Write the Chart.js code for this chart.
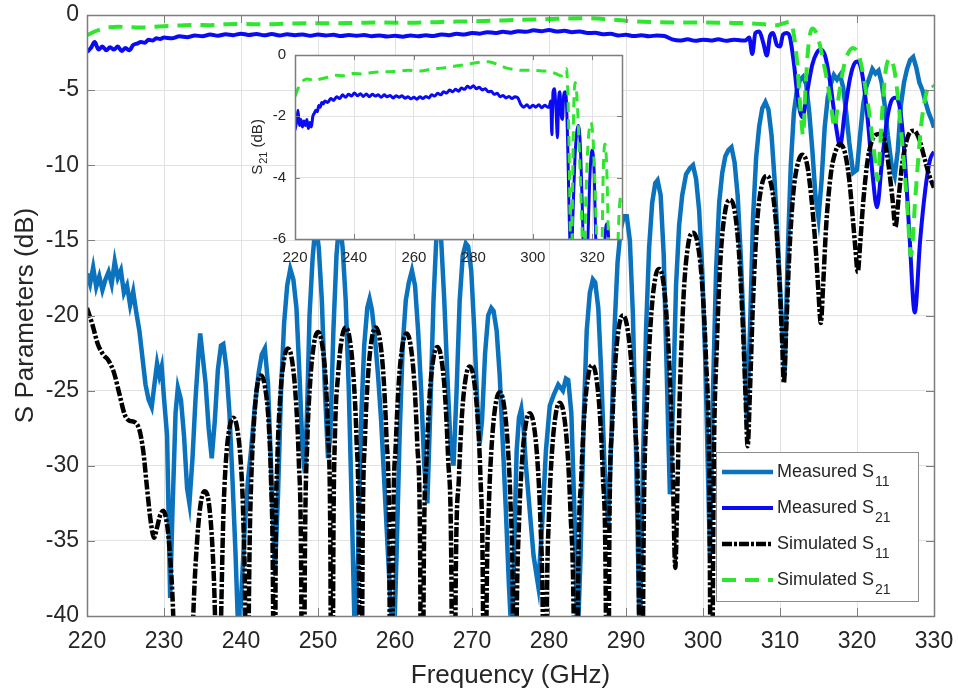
<!DOCTYPE html>
<html lang="en">
<head>
  <meta charset="UTF-8" />
  <title>S Parameters vs Frequency</title>
  <script src="https://cdn.jsdelivr.net/npm/chart.js"></script>
  <style>
    body { margin: 0; background: #fff; }
    #wrap { position: relative; width: 958px; height: 694px; }
    #mainChart { position: absolute; left: 0; top: 0; }
    #insetChart { position: absolute; left: 220px; top: 40px; }
  </style>
</head>
<body>
  <div id="wrap">
    <canvas id="mainChart" width="958" height="694"></canvas>
    <canvas id="insetChart" width="420" height="240"></canvas>
  </div>

  <script>
    // Measured S11 (GHz / dB)
    const freqMeasS11 = [
      220, 220.4, 220.8, 221.2, 221.6, 222, 222.4, 222.8, 223.2, 223.6,
      224, 224.4, 224.8, 225.2, 225.6, 226, 226.4, 226.8, 227.2, 227.6,
      228, 228.4, 228.8, 229.1, 229.4, 229.7, 230, 230.4, 230.8, 231.1,
      231.5, 231.8, 232.2, 232.6, 233.0, 233.3, 233.7, 234.1, 234.5, 234.7,
      235.0, 235.4, 235.8, 236.2, 236.6, 237.0, 237.4, 237.7, 238.1, 238.5,
      238.9, 239.3, 239.7, 240.1, 240.5, 240.9, 241.3, 241.8, 242.3, 242.7,
      243.1, 243.5, 243.9, 244.4, 244.8, 245.2, 245.6, 246.0, 246.4, 246.8,
      247.2, 247.6, 248.0, 248.3, 248.6, 248.9, 249.3, 249.7, 250.1, 250.5,
      250.9, 251.3, 251.6, 252.0, 252.4, 252.8, 253.2, 253.6, 254.0, 254.4,
      254.8, 255.2, 255.6, 256.0, 256.4, 256.7, 257.0, 257.4, 257.8, 258.2,
      258.6, 259.0, 259.4, 259.8, 260.2, 260.6, 261.0, 261.4, 261.8, 262.2,
      262.6, 263.0, 263.4, 263.8, 264.2, 264.6, 265.0, 265.4, 265.7, 266.0,
      266.4, 266.8, 267.2, 267.6, 268.0, 268.4, 268.8, 269.2, 269.5, 269.9,
      270.3, 270.7, 271.0, 271.3, 271.7, 272.1, 272.5, 272.8, 273.2, 273.6,
      274.0, 274.4, 274.8, 275.2, 275.5, 275.8, 276.1, 276.4, 276.7, 277.0,
      277.5, 278.0, 278.6, 279.1, 279.6, 280.1, 280.6, 281.2, 281.8, 282.2,
      282.5, 282.9, 283.3, 283.7, 284.1, 284.5, 284.9, 285.3, 285.7, 286.0,
      286.4, 286.8, 287.2, 287.7, 288.1, 288.5, 288.9, 289.3, 289.7, 290.1,
      290.5, 290.9, 291.3, 291.8, 292.2, 292.6, 293.0, 293.4, 293.8, 294.1,
      294.5, 294.9, 295.3, 295.7, 296.1, 296.5, 296.9, 297.3, 297.8, 298.3,
      298.7, 299.1, 299.5, 299.9, 300.3, 300.9, 301.3, 301.7, 302.1, 302.5,
      302.9, 303.3, 303.7, 304.1, 304.5, 304.9, 305.3, 305.7, 306.1, 306.5,
      306.9, 307.3, 307.7, 308.1, 308.5, 308.9, 309.3, 309.7, 310.2, 310.6,
      311.0, 311.4, 311.8, 312.2, 312.6, 313.0, 313.4, 313.8, 314.2, 314.6,
      315.0, 315.4, 315.8, 316.2, 316.6, 317.0, 317.4, 317.8, 318.2, 318.6,
      319.0, 319.5, 320.0, 320.4, 320.8, 321.2, 321.6, 322.0, 322.4, 322.8,
      323.2, 323.6, 324.0, 324.5, 324.9, 325.3, 325.7, 326.1, 326.5, 326.9,
      327.3, 327.7, 328.1, 328.5, 328.9, 329.3, 329.7, 330
    ];
    const measS11 = [
      -17.2, -17.9, -16.8, -18.1, -17.4, -18.3, -17.6, -17.1, -17.9, -16.4,
      -17.5, -17.0, -18.5, -18.0, -19.3, -18.4, -19.8, -21.0, -22.8, -24.6,
      -25.6, -26.1, -24.4, -23.2, -24.0, -23.4, -25.5, -28, -38.8, -33,
      -26.5, -24.8, -25.6, -28, -31.5, -32.5, -29.5, -25.5, -22.4, -21.2,
      -22.6, -24.5, -27.5, -29.5, -27, -23.6, -22.0, -21.9, -23.5, -26.5,
      -31, -36, -42, -38, -34, -31, -29, -26, -23.8, -22.6,
      -22.2, -24.5, -30, -37.2, -32, -25, -20.5, -18, -16.9, -17.6,
      -19.5, -24, -29, -30.5, -26, -20, -16.2, -13.8, -15.5, -19,
      -25, -29.5, -28, -21, -16, -13.5, -15.5, -19, -25, -33,
      -42, -36, -27, -22, -19.5, -18.9, -19.6, -21.5, -24, -27,
      -31, -35, -39, -43, -36, -28, -22, -19, -17.8, -17.0,
      -18, -21, -25, -30, -32.5, -26, -19, -14.5, -13.5, -15,
      -19, -24, -28.5, -30, -25, -19, -16, -15.2, -15.4, -17,
      -21, -26, -28.5, -27, -22.5, -20, -19.5, -19.7, -21, -24,
      -28.5, -33, -38, -42, -35, -29, -26.8, -26.2, -27.5, -30,
      -33, -36, -38, -34, -29, -26, -25.3, -24.6, -25, -24.2,
      -24.3, -26.5, -33, -42, -36, -27, -21, -18.5, -17.6, -17.8,
      -19.5, -24, -30, -34, -28, -21, -16.5, -14.3, -13.4, -13.4,
      -15, -20, -29, -42, -30, -21, -15.5, -12.5, -11.2, -11.0,
      -12, -16, -24, -31.9, -26, -18, -14, -12, -10.6, -10.2,
      -10.0, -10.9, -13, -17, -23, -35.9, -25, -17, -12.5, -10.5,
      -9.4, -9.0, -8.8, -9.8, -12, -16, -21, -27, -21, -13.5,
      -9.5, -7.4, -6.2, -5.8, -6.3, -8, -11, -15, -20, -24,
      -16, -10, -6.5, -5, -4.3, -4.1, -4.6, -6.5, -9, -12,
      -13.5, -11, -7.5, -5.5, -4.6, -4.0, -4.3, -4.0, -4.8, -6.5,
      -8.5, -10.5, -10.3, -8, -6, -4.8, -4.2, -3.6, -3.9, -3.7,
      -4.5, -6, -8, -10, -10.7, -9, -6, -4.5, -3.6, -3.0,
      -2.8, -3.5, -4.5, -5, -5.8, -6.5, -7, -7.5
    ];

    // Measured S21
    const freqMeasS21 = [
      220, 220.5, 221, 221.5, 222, 222.5, 223, 223.5, 224, 224.5,
      225, 225.5, 226, 226.5, 227, 227.5, 228, 228.5, 229, 229.5,
      230, 231, 232, 233, 234, 235, 236, 237, 238, 239,
      240, 241, 242, 243, 244, 245, 246, 247, 248, 249,
      250, 251, 252, 253, 254, 255, 256, 257, 258, 259,
      260, 261, 262, 263, 264, 265, 266, 267, 268, 269,
      270, 271, 272, 273, 274, 275, 276, 277, 278, 279,
      280, 281, 282, 283, 284, 285, 286, 287, 288, 289,
      290, 291, 292, 293, 294, 295, 296, 297, 298, 299,
      300, 301, 302, 303, 304, 305, 305.5, 306.0, 306.4, 306.8,
      307.3, 307.8, 308.3, 308.7, 309.1, 309.6, 310.0, 310.4, 310.9, 311.3,
      311.8, 312.3, 312.9, 313.5, 314.2, 314.8, 315.3, 315.9, 316.6, 317.3,
      317.8, 318.4, 319.1, 319.7, 320.1, 320.7, 321.4, 322.0, 322.6, 323.2,
      323.8, 324.4, 325.0, 325.6, 326.2, 326.8, 327.5, 328.2, 328.9, 329.5,
      330
    ];
    const measS21 = [
      -2.45, -2.2, -1.8, -2.3, -2.1, -2.35, -2.15, -2.3, -2.1, -2.4,
      -2.2, -2.35, -2.0, -1.9, -1.8, -1.85, -1.65, -1.7, -1.55, -1.6,
      -1.5, -1.55, -1.42, -1.48, -1.36, -1.42, -1.3, -1.38, -1.28, -1.34,
      -1.24, -1.33, -1.26, -1.35, -1.27, -1.36, -1.28, -1.34, -1.3, -1.38,
      -1.3, -1.36, -1.32, -1.4, -1.33, -1.38, -1.33, -1.41, -1.36, -1.43,
      -1.38, -1.44, -1.36, -1.42, -1.35, -1.4, -1.3, -1.34, -1.25, -1.3,
      -1.2, -1.24, -1.14, -1.2, -1.12, -1.18, -1.08, -1.12, -1.02, -1.08,
      -1.0, -1.1, -1.05, -1.14, -1.1, -1.2, -1.18, -1.28, -1.25, -1.36,
      -1.32, -1.4, -1.35, -1.42, -1.36, -1.4, -1.62, -1.7, -1.62, -1.72,
      -1.64, -1.7, -1.62, -1.72, -1.64, -1.7, -1.7, -1.5, -2.6, -1.2,
      -1.1, -1.8, -2.7, -1.4, -1.2, -2.0, -2.1, -1.3, -1.2, -1.5,
      -3.2, -5.5, -6.8, -5.2, -3.3, -2.5, -2.3, -2.8, -4.8, -7.5,
      -8.7, -6.5, -4.2, -3.2, -3.1, -4.0, -7.0, -10.5, -12.8, -10,
      -7.3, -5.8, -5.5, -6.3, -9.5, -14.5, -19.8, -15, -11.5, -9.6,
      -9.1
    ];

    // Simulated S11
    const freqSimS11 = [
      220, 220.7, 221.4, 222.1, 222.8, 223.5, 224.2, 224.9, 225.5, 226.2,
      226.8, 227.3, 227.8, 228.3, 228.7, 229.1, 229.5, 229.9, 230.3, 230.7,
      231.2, 231.8, 232.5, 233.2, 233.8, 234.3, 234.8, 235.3, 235.8, 236.3,
      236.6, 236.85, 237.05, 237.3, 237.5, 237.7, 238.0, 238.5, 239.0, 239.5,
      240.0, 240.3, 240.55, 240.8, 240.95, 241.1, 241.3, 241.7, 242.1, 242.6,
      243.1, 243.6, 243.9, 244.15, 244.35, 244.5, 244.7, 245.1, 245.6, 246.1,
      246.6, 247.1, 247.5, 247.8, 248.05, 248.3, 248.6, 249.0, 249.5, 250.0,
      250.5, 251.0, 251.3, 251.6, 251.8, 252.0, 252.2, 252.6, 253.1, 253.6,
      254.1, 254.6, 255.0, 255.3, 255.55, 255.8, 256.1, 256.5, 257.0, 257.5,
      258.0, 258.5, 258.9, 259.25, 259.5, 259.75, 260.1, 260.5, 261.0, 261.5,
      262.0, 262.5, 262.9, 263.25, 263.5, 263.75, 264.1, 264.5, 265.0, 265.5,
      266.0, 266.5, 266.9, 267.3, 267.6, 267.9, 268.3, 268.7, 269.2, 269.7,
      270.2, 270.7, 271.1, 271.4, 271.65, 271.9, 272.2, 272.6, 273.1, 273.6,
      274.1, 274.6, 275.0, 275.3, 275.55, 275.8, 276.1, 276.5, 277.0, 277.5,
      278.0, 278.5, 278.9, 279.2, 279.45, 279.7, 280.0, 280.4, 280.9, 281.4,
      281.9, 282.4, 282.8, 283.2, 283.5, 283.8, 284.2, 284.6, 285.1, 285.6,
      286.1, 286.6, 287.0, 287.35, 287.6, 287.85, 288.2, 288.6, 289.1, 289.6,
      290.1, 290.7, 291.2, 291.6, 291.95, 292.3, 292.7, 293.2, 293.8, 294.3,
      294.8, 295.3, 295.8, 296.1, 296.4, 296.7, 297.0, 297.5, 298.1, 298.7,
      299.3, 299.9, 300.4, 300.8, 301.1, 301.4, 301.8, 302.3, 302.9, 303.5,
      304.1, 304.7, 305.2, 305.5, 305.8, 306.1, 306.5, 307.0, 307.6, 308.3,
      308.9, 309.5, 310.0, 310.3, 310.5, 310.8, 311.2, 311.7, 312.3, 312.9,
      313.5, 314.1, 314.7, 315.0, 315.3, 315.6, 316.0, 316.6, 317.2, 317.8,
      318.4, 319.0, 319.5, 319.8, 320.1, 320.4, 320.8, 321.4, 322.2, 323.0,
      323.6, 324.1, 324.6, 325.0, 325.4, 325.9, 326.6, 327.4, 328.1, 328.8,
      329.4, 330
    ];
    const simS11 = [
      -19.5, -20.6, -21.9, -22.6, -23.0, -23.8, -25.2, -26.6, -27.0, -27.1,
      -27.6, -29.0, -31.5, -33.8, -34.8, -34.1, -33.3, -33.0, -33.6, -35.4,
      -40.0, -52, -60, -52, -40.0, -35.0, -32.4, -31.7, -32.4, -35.5,
      -39.5, -46, -60, -44, -38, -33.5, -30.0, -27.5, -26.8, -27.5,
      -30.0, -33.5, -40, -60, -44, -36, -31.4, -27, -24.7, -24.0,
      -24.7, -27.2, -31, -38, -60, -36, -30, -25.4, -22.9, -22.2,
      -22.9, -25.4, -29.6, -36.2, -60, -36, -28.5, -24.3, -21.8, -21.1,
      -21.8, -24.3, -27.8, -35, -60, -35, -28, -24, -21.5, -20.8,
      -21.5, -24, -28.2, -34.8, -60, -34.8, -28.2, -24, -21.5, -20.8,
      -21.5, -24, -28.2, -34.8, -60, -35, -28.6, -24.4, -21.9, -21.2,
      -21.9, -24.4, -28.6, -35, -60, -36, -29.5, -25.3, -22.8, -22.1,
      -22.8, -25.3, -29.5, -36, -60, -37, -30.8, -26.6, -24.1, -23.4,
      -24.1, -26.6, -30.8, -37.4, -60, -39, -32.5, -28.3, -25.8, -25.1,
      -25.8, -28.3, -32.5, -39, -60, -40.5, -33.9, -29.7, -27.2, -26.5,
      -27.2, -29.7, -33.9, -40.5, -60, -40, -33.2, -29, -26.5, -25.8,
      -26.5, -29, -33.2, -40, -60, -37.3, -30.7, -26.5, -24, -23.3,
      -24, -26.5, -30.7, -37.3, -60, -34, -27.4, -23.2, -20.7, -20.0,
      -20.6, -23.2, -27.4, -34, -60, -34, -26, -20.5, -17.5, -16.9,
      -17.6, -20.3, -25.5, -31, -36.8, -31, -25, -18.5, -15.2, -14.5,
      -15.2, -18, -23, -30, -50, -30, -22, -16, -13, -12.3,
      -13, -16, -21, -25, -28.7, -25, -19, -14, -11.4, -10.7,
      -11.4, -14, -18.5, -22, -24.5, -21, -16, -12, -9.9, -9.3,
      -9.9, -12.3, -16, -18.5, -20.5, -18, -14, -10.6, -9.1, -8.6,
      -9.1, -11, -13.8, -15.6, -17.1, -15.3, -12.5, -9.6, -8.1, -7.9,
      -8.4, -10, -12.2, -14.1, -12.2, -9.8, -8.1, -7.7, -8.3, -9.6,
      -10.7, -11.5
    ];

    // Simulated S21
    const freqSimS21 = [
      220, 221, 222, 223, 224, 225, 226, 227, 228, 230,
      232, 234, 236, 238, 240, 243, 246, 250, 254, 258,
      262, 266, 270, 274, 278, 282, 285, 288, 291, 294,
      297, 300, 303, 306, 308, 309.5, 310.5, 311.3, 312.1, 312.7,
      313.0, 313.3, 313.7, 314.2, 314.8, 315.6, 316.5, 317.1, 317.6, 318.4,
      319.5, 320.3, 321.3, 322.2, 322.7, 323.2, 323.7, 324.3, 324.9, 325.7,
      326.5, 327.0, 327.6, 328.3, 329.0, 329.7, 330
    ];
    const simS21 = [
      -1.35, -1.1, -0.92, -0.82, -0.78, -0.8, -0.82, -0.84, -0.8, -0.75,
      -0.7, -0.66, -0.68, -0.62, -0.6, -0.62, -0.57, -0.55, -0.54, -0.5,
      -0.52, -0.46, -0.42, -0.36, -0.3, -0.24, -0.22, -0.3, -0.42, -0.48,
      -0.5, -0.5, -0.52, -0.55, -0.62, -0.68, -0.55, -0.45, -2.5, -6.5,
      -8, -5, -2, -0.9, -1.3, -3, -5.5, -7.5, -5.5, -3.2,
      -2.2, -2.8, -5.5, -9, -11, -7, -3.8, -2.9, -3.8, -7.5,
      -12.5, -16, -12, -7.5, -5.2, -4.6, -4.8
    ];

    // inset x tick labels
    const insetFreqTicks = [220, 240, 260, 280, 300, 320];

    const fontFamily = '"Liberation Sans", Arial, sans-serif';
    const textColor = '#262626';
    const gridColor = '#e2e2e2';
    const boxColor = '#7d7d7d';

    const toXY = (xs, ys) => xs.map((x, i) => ({ x: x, y: ys[i] }));

    const series = [
      { label: 'Measured S11', f: freqMeasS11, v: measS11, color: '#0b72bd', width: 4.5, dash: [], smooth: false, order: 3 },
      { label: 'Measured S21', f: freqMeasS21, v: measS21, color: '#0a0af5', width: 4, dash: [], smooth: true, order: 2 },
      { label: 'Simulated S11', f: freqSimS11, v: simS11, color: '#000000', width: 4.5, dash: [10, 2, 3, 2], smooth: true, order: 1 },
      { label: 'Simulated S21', f: freqSimS21, v: simS21, color: '#2ee62e', width: 4, dash: [14, 9], smooth: true, order: 0 }
    ];

    function makeDataset(s, width, dash) {
      return {
        label: s.label,
        data: toXY(s.f, s.v),
        borderColor: s.color,
        borderWidth: width,
        borderDash: dash,
        pointRadius: 0,
        fill: false,
        tension: 0,
        cubicInterpolationMode: s.smooth ? 'monotone' : 'default',
        order: s.order,
        clip: 0
      };
    }

    // keep the plot box exactly where the layout padding puts it
    function fixSize(prop, size) {
      return s => {
        s[prop] = size;
        s.paddingTop = 0; s.paddingBottom = 0;
        s.paddingLeft = 0; s.paddingRight = 0;
      };
    }

    // frame + inward ticks like a matlab axes box
    const axesBox = {
      id: 'axesBox',
      beforeDraw(chart, args, opts) {
        if (!opts.fill) return;
        const a = chart.chartArea;
        chart.ctx.save();
        chart.ctx.fillStyle = opts.fill;
        chart.ctx.fillRect(a.left, a.top, a.right - a.left, a.bottom - a.top);
        chart.ctx.restore();
      },
      afterDraw(chart, args, opts) {
        const { ctx, chartArea: a, scales } = chart;
        const len = opts.tick || 6;
        ctx.save();
        ctx.strokeStyle = boxColor;
        ctx.lineWidth = 1;
        ctx.beginPath();
        scales.x.ticks.forEach(t => {
          const px = Math.round(scales.x.getPixelForValue(t.value)) + 0.5;
          ctx.moveTo(px, a.bottom); ctx.lineTo(px, a.bottom - len);
          ctx.moveTo(px, a.top); ctx.lineTo(px, a.top + len);
        });
        scales.y.ticks.forEach(t => {
          const py = Math.round(scales.y.getPixelForValue(t.value)) + 0.5;
          ctx.moveTo(a.left, py); ctx.lineTo(a.left + len, py);
          ctx.moveTo(a.right, py); ctx.lineTo(a.right - len, py);
        });
        ctx.stroke();
        ctx.lineWidth = 1.5;
        ctx.strokeRect(Math.round(a.left) + 0.5, Math.round(a.top) + 0.5,
          Math.round(a.right - a.left), Math.round(a.bottom - a.top));
        ctx.restore();
      }
    };

    // label with subscript, e.g. "Measured S" + "11"
    function drawSubLabel(ctx, label, x, y, size, subSize, drop) {
      const main = label.slice(0, -2);
      const sub = label.slice(-2);
      ctx.font = size + 'px ' + fontFamily;
      ctx.fillText(main, x, y);
      const w = ctx.measureText(main).width;
      ctx.font = subSize + 'px ' + fontFamily;
      ctx.fillText(sub, x + w + 1, y + drop);
      return w + 1 + ctx.measureText(sub).width;
    }

    const mainText = {
      id: 'mainText',
      afterDraw(chart) {
        const { ctx, chartArea: a } = chart;
        ctx.save();
        ctx.fillStyle = textColor;
        ctx.textBaseline = 'alphabetic';

        // axis titles
        ctx.font = '26px ' + fontFamily;
        ctx.textAlign = 'center';
        ctx.fillText('Frequency (GHz)', (a.left + a.right) / 2, 683);
        ctx.save();
        ctx.translate(33, (a.top + a.bottom) / 2);
        ctx.rotate(-Math.PI / 2);
        ctx.fillText('S Parameters (dB)', 0, 0);
        ctx.restore();

        // legend
        const lx = 716, ly = 452, lw = 202, lh = 149;
        ctx.fillStyle = '#fff';
        ctx.fillRect(lx, ly, lw, lh);
        ctx.strokeStyle = '#8c8c8c';
        ctx.lineWidth = 1;
        ctx.strokeRect(lx + 0.5, ly + 0.5, lw, lh);
        ctx.textAlign = 'left';
        series.forEach((s, i) => {
          const base = 477 + i * 36;
          ctx.strokeStyle = s.color;
          ctx.lineWidth = s.width;
          ctx.setLineDash(s.dash);
          ctx.beginPath();
          ctx.moveTo(722, base - 5);
          ctx.lineTo(773, base - 5);
          ctx.stroke();
          ctx.setLineDash([]);
          ctx.fillStyle = textColor;
          drawSubLabel(ctx, s.label, 777, base, 18, 14, 9);
        });
        ctx.restore();
      }
    };

    const insetText = {
      id: 'insetText',
      afterDraw(chart) {
        const { ctx, chartArea: a } = chart;
        ctx.save();
        ctx.fillStyle = textColor;
        ctx.textAlign = 'left';
        ctx.textBaseline = 'alphabetic';
        ctx.font = '15px ' + fontFamily;
        const mainW = ctx.measureText('S').width + 1;
        ctx.font = '11px ' + fontFamily;
        const subW = ctx.measureText('21').width;
        ctx.font = '15px ' + fontFamily;
        const restW = ctx.measureText(' (dB)').width;
        const total = mainW + subW + restW;
        ctx.translate(42, (a.top + a.bottom) / 2);
        ctx.rotate(-Math.PI / 2);
        const x0 = -total / 2;
        const w = drawSubLabel(ctx, 'S21', x0, 0, 15, 11, 5);
        ctx.font = '15px ' + fontFamily;
        ctx.fillText(' (dB)', x0 + w, 0);
        ctx.restore();
      }
    };

    Chart.defaults.font.family = fontFamily;

    new Chart(document.getElementById('mainChart'), {
      type: 'line',
      data: { datasets: series.map(s => makeDataset(s, s.width, s.dash)) },
      options: {
        responsive: false,
        animation: false,
        layout: { padding: { top: 15, right: 24, left: 0, bottom: 0 } },
        plugins: {
          legend: { display: false },
          tooltip: { enabled: false },
          axesBox: { tick: 8 }
        },
        scales: {
          x: {
            type: 'linear', min: 220, max: 330,
            ticks: { stepSize: 10, padding: 12, autoSkip: false, maxRotation: 0, color: textColor, font: { size: 23 } },
            grid: { color: gridColor, drawTicks: false },
            border: { display: false },
            afterFit: fixSize('height', 78)
          },
          y: {
            type: 'linear', min: -40, max: 0,
            ticks: { stepSize: 5, padding: 8, color: textColor, font: { size: 23 } },
            grid: { color: gridColor, drawTicks: false },
            border: { display: false },
            afterFit: fixSize('width', 87)
          }
        }
      },
      plugins: [axesBox, mainText]
    });

    new Chart(document.getElementById('insetChart'), {
      type: 'line',
      data: {
        datasets: [
          makeDataset(series[1], 3, []),
          makeDataset(series[3], 3, [10, 7])
        ]
      },
      options: {
        responsive: false,
        animation: false,
        layout: { padding: { top: 15, right: 18, left: 0, bottom: 0 } },
        plugins: {
          legend: { display: false },
          tooltip: { enabled: false },
          axesBox: { tick: 5, fill: '#ffffff' }
        },
        scales: {
          x: {
            type: 'linear', min: 220, max: 330,
            afterBuildTicks: s => { s.ticks = insetFreqTicks.map(v => ({ value: v })); },
            ticks: { padding: 10, autoSkip: false, maxRotation: 0, color: textColor, font: { size: 15 } },
            grid: { color: gridColor, drawTicks: false },
            border: { display: false },
            afterFit: fixSize('height', 41)
          },
          y: {
            type: 'linear', min: -6, max: 0,
            ticks: { stepSize: 2, padding: 9, color: textColor, font: { size: 15 } },
            grid: { color: gridColor, drawTicks: false },
            border: { display: false },
            afterFit: fixSize('width', 75)
          }
        }
      },
      plugins: [axesBox, insetText]
    });
  </script>
</body>
</html>
